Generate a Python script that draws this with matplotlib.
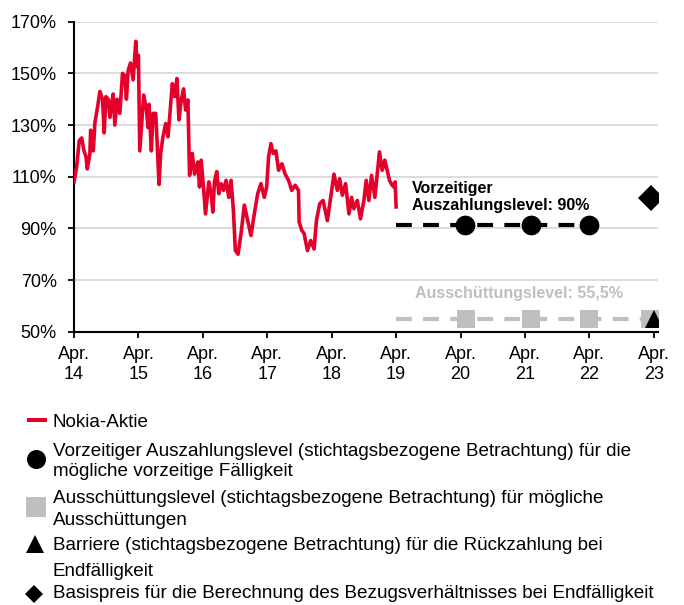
import matplotlib
matplotlib.use("Agg")
import matplotlib.pyplot as plt
from matplotlib.lines import Line2D

plt.rcParams['font.family'] = ['Liberation Sans', 'DejaVu Sans']

# ---- data ----
stock_t = [0.0, 0.041, 0.082, 0.119, 0.155, 0.186, 0.206, 0.247, 0.258, 0.299, 0.325, 0.366, 0.402,
           0.443, 0.469, 0.495, 0.531, 0.557, 0.582, 0.608, 0.634, 0.670, 0.711, 0.753, 0.789, 0.814,
           0.840, 0.876, 0.918, 0.959, 0.979, 1.0, 1.021, 1.046, 1.082, 1.124, 1.149, 1.165, 1.201,
           1.227, 1.268, 1.289, 1.320, 1.345, 1.381, 1.423, 1.459, 1.485, 1.526, 1.562, 1.598, 1.629,
           1.665, 1.701, 1.732, 1.768, 1.794, 1.835, 1.871, 1.923, 1.948, 1.974, 2.010, 2.041, 2.093,
           2.129, 2.155, 2.180, 2.216, 2.247, 2.284, 2.320, 2.361, 2.402, 2.438, 2.474, 2.505, 2.546,
           2.593, 2.644, 2.696, 2.747, 2.799, 2.851, 2.902, 2.954, 2.990, 3.021, 3.057, 3.093, 3.134,
           3.175, 3.227, 3.278, 3.330, 3.381, 3.433, 3.485, 3.495, 3.536, 3.572, 3.624, 3.675, 3.727,
           3.763, 3.814, 3.866, 3.933, 3.985, 4.036, 4.088, 4.124, 4.165, 4.216, 4.268, 4.309, 4.345,
           4.397, 4.448, 4.500, 4.536, 4.577, 4.619, 4.670, 4.706, 4.742, 4.784, 4.825, 4.861, 4.897,
           4.938, 4.969, 4.985, 5.0]
stock_v = [108, 113.8, 124, 125, 120, 117.7, 113, 119, 128, 120, 131, 137, 143,
           140, 127, 141, 140, 133, 138, 142, 130, 140, 134.5, 150, 149, 140,
           151, 154, 147.5, 162.4, 152.6, 157, 120, 129, 141.6, 136, 129, 138, 120,
           134.5, 134.5, 124, 107, 119, 125.4, 130.6, 125.4, 133, 146, 141, 148, 132,
           139.7, 144, 135.8, 139.7, 110.5, 119, 111, 115.7, 106, 116.4, 106, 95.6, 108,
           103.4, 96.3, 108, 112, 103.4, 107.3, 104.7, 108.6, 102, 108.6, 97, 81.4, 80,
           88, 99, 93, 87.2, 95.6, 103.4, 107.3, 102, 106, 117.7, 122.8, 119, 120,
           112.5, 115, 111, 108.6, 104.7, 106.7, 104.7, 92.4, 89.2, 88, 81.4, 85.3, 82,
           93, 99.5, 100.8, 93, 102, 111, 104.7, 109.2, 102.8, 107.3, 95.6, 102, 97.6,
           100.8, 93.7, 100.8, 108.6, 100.8, 110.5, 102, 111, 119.6, 112.5, 116.4, 112.5, 108.6,
           106.7, 106, 108, 98.3]

payout_level = 91.3
payout_line_t = [5.0, 8.0]
payout_obs_t = [6.07, 7.09, 8.0]

coupon_level = 55.0
coupon_line_t = [5.0, 9.0]
coupon_obs_t = [6.09, 7.09, 8.0, 8.94]

barrier_t = [9.0]
barrier_v = [55.0]

strike_t = [8.96]
strike_v = [101.7]

x_ticks = [0, 1, 2, 3, 4, 5, 6, 7, 8, 9]
x_labels = ["Apr.\n14", "Apr.\n15", "Apr.\n16", "Apr.\n17", "Apr.\n18", "Apr.\n19",
            "Apr.\n20", "Apr.\n21", "Apr.\n22", "Apr.\n23"]
y_ticks = [50, 70, 90, 110, 130, 150, 170]
y_labels = ["50%", "70%", "90%", "110%", "130%", "150%", "170%"]

legend_labels = [
    ["Nokia-Aktie"],
    ["Vorzeitiger Auszahlungslevel (stichtagsbezogene Betrachtung) für die",
     "mögliche vorzeitige Fälligkeit"],
    ["Ausschüttungslevel (stichtagsbezogene Betrachtung) für mögliche",
     "Ausschüttungen"],
    ["Barriere (stichtagsbezogene Betrachtung) für die Rückzahlung bei",
     "Endfälligkeit"],
    ["Basispreis für die Berechnung des Bezugsverhältnisses bei Endfälligkeit"],
]

RED = "#E4002B"
GRAY = "#BFBFBF"

W, H = 684, 605
fig = plt.figure(figsize=(W / 100, H / 100), dpi=100)
ax = fig.add_axes([74 / W, 1 - 331.7 / H, (658.3 - 74) / W, (331.7 - 21.7) / H])

ax.set_xlim(0, 9.07)
ax.set_ylim(50, 170)
for y in y_ticks[1:]:
    ax.axhline(y, color="#D9D9D9", lw=1.3, zorder=0)

ax.plot(stock_t, stock_v, color=RED, lw=2.6, zorder=3, solid_joinstyle="round")

ax.plot(payout_line_t, [payout_level] * 2, color="black", lw=3, dashes=(3.8, 2.7), zorder=2)
ax.plot(payout_obs_t, [payout_level] * len(payout_obs_t), "o", color="black", ms=14.2, mew=0, zorder=4)

ax.plot(coupon_line_t, [coupon_level] * 2, color=GRAY, lw=3, dashes=(3.8, 2.7), zorder=2)
ax.plot(coupon_obs_t, [coupon_level] * len(coupon_obs_t), "s", color=GRAY, ms=13.4, mew=0, zorder=4)
ax.plot(barrier_t, barrier_v, "^", color="black", ms=13.5, mew=0, zorder=5)
ax.plot(strike_t, strike_v, "D", color="black", ms=13.7, mew=0, zorder=5)

ax.text(5.25, 97.1, "Vorzeitiger\nAuszahlungslevel: 90%", fontsize=11.5, fontweight="bold",
        va="baseline", ha="left", linespacing=1.15)
ax.text(5.30, 62.9, "Ausschüttungslevel: 55,5%", fontsize=11.5, fontweight="bold",
        color=GRAY, va="baseline", ha="left")

ax.set_xticks(x_ticks)
ax.set_xticklabels(x_labels, fontsize=13, linespacing=1.3)
ax.set_yticks(y_ticks)
ax.set_yticklabels(y_labels, fontsize=13)
ax.tick_params(axis="both", direction="out", length=4.5, width=1.3, color="black")
ax.tick_params(axis="y", pad=8)
ax.tick_params(axis="x", pad=5.5)
for s in ["top", "right"]:
    ax.spines[s].set_visible(False)
for s in ["left", "bottom"]:
    ax.spines[s].set_linewidth(1.5)

# ---- legend (manual, pixel coords) ----
lax = fig.add_axes([0, 0, 1, 1])
lax.set_xlim(0, W)
lax.set_ylim(H, 0)
lax.axis("off")
lax.add_line(Line2D([27, 47], [420, 420], color=RED, lw=2.9, solid_capstyle="butt"))
lax.plot([36], [458.5], "o", color="black", ms=13.7, mew=0)
lax.plot([36], [506.5], "s", color=GRAY, ms=13.7, mew=0)
lax.plot([35], [543.5], "^", color="black", ms=12.5, mew=0)
lax.plot([34], [594], "D", color="black", ms=9.5, mew=0)
leg_fs = 13.6
baselines = [[426.7], [455.5, 476], [503, 525], [550, 576], [598.5]]
for lines, bls in zip(legend_labels, baselines):
    for txt, b in zip(lines, bls):
        lax.text(53, b, txt, fontsize=leg_fs, va="baseline", ha="left")

fig.savefig("out.png", dpi=100)
